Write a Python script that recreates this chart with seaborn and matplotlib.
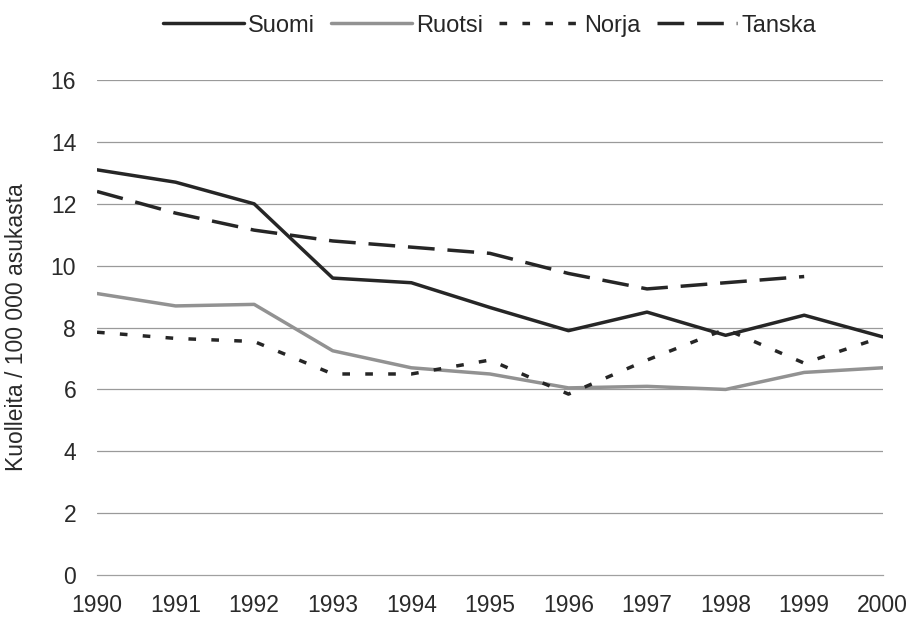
import numpy as np
import pandas as pd
import matplotlib
matplotlib.use('Agg')
import matplotlib.pyplot as plt
import seaborn as sns

# Data
years = [1990, 1991, 1992, 1993, 1994, 1995, 1996, 1997, 1998, 1999, 2000]
suomi = [13.1, 12.7, 12.0, 9.6, 9.45, 8.65, 7.9, 8.5, 7.75, 8.4, 7.7]
ruotsi = [9.1, 8.7, 8.75, 7.25, 6.7, 6.5, 6.05, 6.1, 6.0, 6.55, 6.7]
norja = [7.85, 7.65, 7.55, 6.5, 6.5, 6.95, 5.85, 6.95, 7.95, 6.85, 7.7]
tanska = [12.4, 11.7, 11.15, 10.8, 10.6, 10.4, 9.75, 9.25, 9.45, 9.65, np.nan]

series_names = ["Suomi", "Ruotsi", "Norja", "Tanska"]
ytick_values = [0, 2, 4, 6, 8, 10, 12, 14, 16]

df = pd.DataFrame({"year": years, "Suomi": suomi, "Ruotsi": ruotsi,
                   "Norja": norja, "Tanska": tanska})
long_df = df.melt(id_vars="year", var_name="maa", value_name="arvo").dropna()

sns.set_theme(style="white")
plt.rcParams['font.family'] = ['Liberation Sans', 'DejaVu Sans']

fig = plt.figure(figsize=(9.11, 6.21), dpi=100)
ax = fig.add_axes([0.1065, 0.074, 0.8625, 0.797])

text_color = "#2a2a2a"
palette = {"Suomi": "#262626", "Ruotsi": "#929292", "Norja": "#262626", "Tanska": "#262626"}
dashes = {"Suomi": "", "Ruotsi": "", "Norja": (2.2, 4.4), "Tanska": (7.7, 3.7)}

sns.lineplot(data=long_df, x="year", y="arvo", hue="maa", style="maa",
             hue_order=series_names, style_order=series_names,
             palette=palette, dashes=dashes, linewidth=2.5, ax=ax,
             legend=True, sort=False)

ax.set_xlim(1990, 2000)
ax.set_ylim(0, 16)
ax.set_xticks(years)
ax.set_xticklabels([str(y) for y in years], fontsize=16.5, color=text_color)
ax.set_yticks(ytick_values)
ax.set_yticklabels([str(v) for v in ytick_values], fontsize=16.5, color=text_color)
ax.tick_params(axis="y", length=0, pad=15)
ax.tick_params(axis="x", direction="in", length=5, width=0.8, color="#999999", pad=14)

for v in ytick_values[1:]:
    ax.axhline(v, color="#9a9a9a", linewidth=0.9, zorder=0)

for side in ["left", "right", "top"]:
    ax.spines[side].set_visible(False)
ax.spines["bottom"].set_color("#a0a0a0")
ax.spines["bottom"].set_linewidth(0.9)

ax.set_xlabel("")
ax.set_ylabel("Kuolleita / 100 000 asukasta", fontsize=16.5, color=text_color)
ax.yaxis.set_label_coords(-0.088, 0.5)

handles, labels = ax.get_legend_handles_labels()
ax.legend(handles, labels, ncol=4, frameon=False, fontsize=17,
          loc="center", bbox_to_anchor=(0.5, 1.11),
          handlelength=3.4, handletextpad=0.2, columnspacing=0.68)

plt.savefig("out.png", dpi=100)
plt.close()
